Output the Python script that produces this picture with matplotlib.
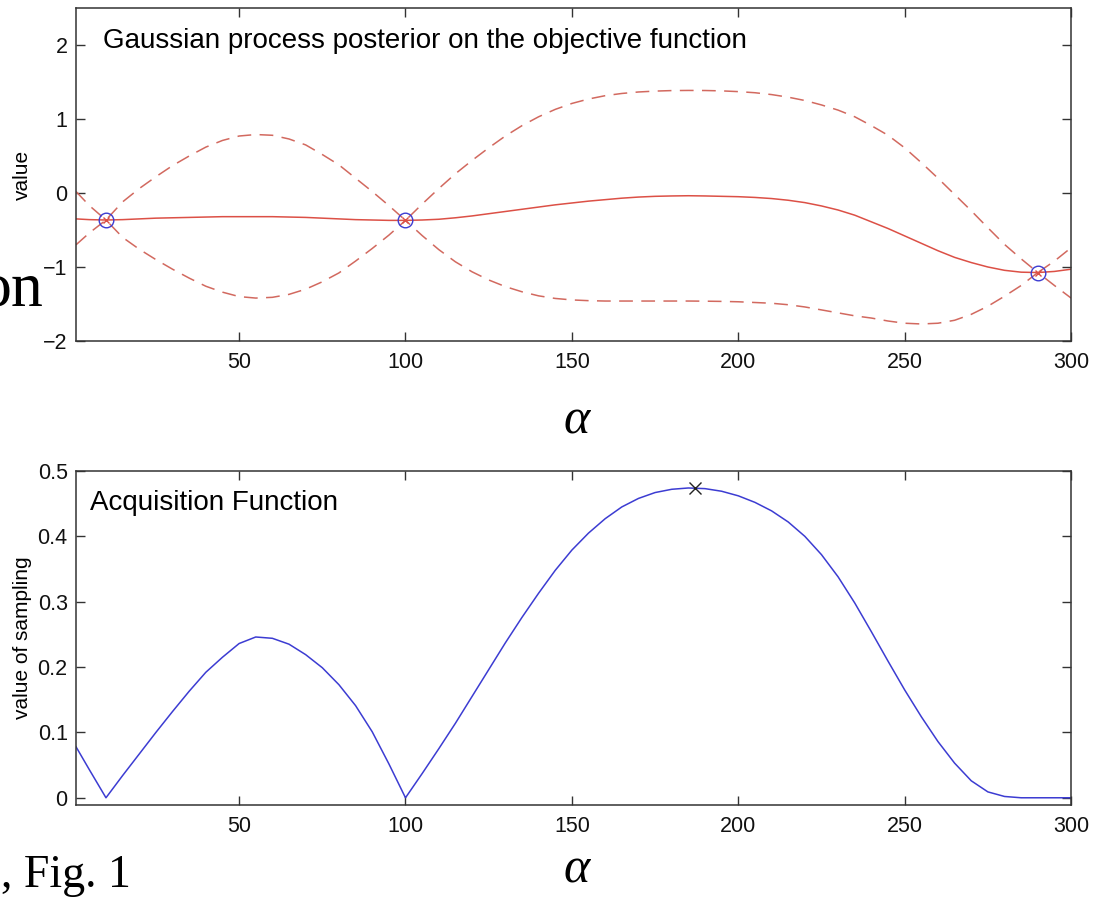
import matplotlib
matplotlib.use('Agg')
import matplotlib.pyplot as plt
import numpy as np

plt.rcParams['font.family'] = ['Liberation Sans', 'DejaVu Sans']

alpha_x = [1] + list(range(5, 301, 5))

# GP posterior mean
gp_mean = [-0.35, -0.36, -0.365, -0.36, -0.35, -0.34, -0.335, -0.33, -0.325, -0.32,
           -0.32, -0.32, -0.32, -0.325, -0.33, -0.34, -0.35, -0.36, -0.365, -0.37,
           -0.37, -0.365, -0.355, -0.335, -0.31, -0.28, -0.25, -0.22, -0.19, -0.16,
           -0.135, -0.11, -0.09, -0.07, -0.055, -0.045, -0.04, -0.037, -0.04, -0.045,
           -0.05, -0.06, -0.075, -0.098, -0.13, -0.175, -0.23, -0.30, -0.39, -0.48,
           -0.58, -0.68, -0.78, -0.87, -0.94, -1.0, -1.045, -1.07, -1.075, -1.06,
           -1.03]
# upper / lower bands (dashed)
gp_upper = [0.02, -0.17, -0.365, -0.12, 0.06, 0.22, 0.37, 0.5, 0.62, 0.71,
            0.77, 0.79, 0.78, 0.73, 0.65, 0.52, 0.38, 0.2, 0.02, -0.17,
            -0.37, -0.15, 0.06, 0.26, 0.44, 0.61, 0.77, 0.91, 1.03, 1.13,
            1.21, 1.27, 1.315, 1.345, 1.365, 1.377, 1.384, 1.386, 1.385, 1.38,
            1.37, 1.355, 1.33, 1.295, 1.25, 1.19, 1.12, 1.03, 0.91, 0.78,
            0.61, 0.41, 0.20, -0.02, -0.24, -0.47, -0.695, -0.89, -1.075, -0.92,
            -0.74]
gp_lower = [-0.70, -0.54, -0.365, -0.60, -0.76, -0.90, -1.03, -1.15, -1.26, -1.34,
            -1.40, -1.42, -1.41, -1.37, -1.30, -1.20, -1.08, -0.92, -0.75, -0.57,
            -0.37, -0.575, -0.765, -0.93, -1.065, -1.175, -1.265, -1.335, -1.39, -1.425,
            -1.445, -1.455, -1.46, -1.46, -1.46, -1.46, -1.46, -1.46, -1.462, -1.465,
            -1.47, -1.48, -1.49, -1.51, -1.54, -1.58, -1.62, -1.66, -1.69, -1.73,
            -1.76, -1.77, -1.76, -1.72, -1.64, -1.53, -1.395, -1.25, -1.075, -1.25,
            -1.42]
# acquisition function
acq = [0.078, 0.043, 0.0, 0.034, 0.067, 0.10, 0.132, 0.163, 0.192, 0.215,
       0.236, 0.246, 0.244, 0.235, 0.219, 0.199, 0.173, 0.141, 0.101, 0.052,
       0.0, 0.037, 0.075, 0.114, 0.155, 0.196, 0.237, 0.276, 0.313, 0.348,
       0.379, 0.405, 0.427, 0.445, 0.458, 0.467, 0.472, 0.474, 0.473, 0.469,
       0.462, 0.452, 0.439, 0.422, 0.400, 0.372, 0.338, 0.298, 0.254, 0.209,
       0.165, 0.124, 0.086, 0.053, 0.026, 0.009, 0.002, 0.0, 0.0, 0.0,
       0.0]

obs_x = [10, 100, 290]
obs_y = [-0.365, -0.37, -1.075]
next_x = [187]
next_y = [0.474]

red = '#dc5046'
red_dash = '#d2695f'
blue = '#3c3cd2'
spine_c = '#333333'

fig = plt.figure(figsize=(11.05, 8.99), dpi=100)
ax1 = fig.add_axes([0.0688, 0.6207, 0.9005, 0.3704])
ax2 = fig.add_axes([0.0688, 0.1046, 0.9005, 0.3715])

# top: GP posterior
ax1.plot(alpha_x, gp_upper, color=red_dash, lw=1.1, dashes=(9, 5.5))
ax1.plot(alpha_x, gp_lower, color=red_dash, lw=1.1, dashes=(9, 5.5))
ax1.plot(alpha_x, gp_mean, color=red, lw=1.1)
ax1.plot(obs_x, obs_y, 'x', color=red, ms=5, mew=1)
ax1.plot(obs_x, obs_y, 'o', mfc='none', mec=blue, ms=10.5, mew=1)
ax1.set_xlim(1, 300)
ax1.set_ylim(-2, 2.5)
ax1.set_yticks([-2, -1, 0, 1, 2])
ax1.set_yticklabels(['\u22122', '\u22121', '0', '1', '2'])
ax1.set_ylabel('value', fontsize=15)
ax1.yaxis.set_label_coords(-0.044, 0.5)
ax1.text(0.027, 0.879, 'Gaussian process posterior on the objective function',
         transform=ax1.transAxes, fontsize=20, va='baseline', ha='left')

# bottom: acquisition
ax2.plot(alpha_x, acq, color=blue, lw=1.1)
ax2.plot(next_x, next_y, 'x', color='#222222', ms=8, mew=1)
ax2.set_xlim(1, 300)
ax2.set_ylim(-0.011, 0.5)
ax2.set_yticks([0, 0.1, 0.2, 0.3, 0.4, 0.5])
ax2.set_yticklabels(['0', '0.1', '0.2', '0.3', '0.4', '0.5'])
ax2.set_ylabel('value of sampling', fontsize=15)
ax2.yaxis.set_label_coords(-0.044, 0.5)
ax2.text(0.014, 0.883, 'Acquisition Function',
         transform=ax2.transAxes, fontsize=20, va='baseline', ha='left')

for ax in (ax1, ax2):
    ax.set_xticks([50, 100, 150, 200, 250, 300])
    ax.tick_params(direction='in', length=6.5, width=1, colors=spine_c,
                   labelcolor='#111111', labelsize=15.5, top=True, right=True)
    ax.tick_params(axis='x', pad=8)
    ax.tick_params(axis='y', pad=6)
    for s in ax.spines.values():
        s.set_color(spine_c)
        s.set_linewidth(1.1)

# surrounding text from the page
fig.text(577 / 1105, 1 - 421 / 899, '\u03b1', family='Liberation Serif', style='italic',
         fontsize=36, ha='center', va='center')
fig.text(577 / 1105, 1 - 870 / 899, '\u03b1', family='Liberation Serif', style='italic',
         fontsize=36, ha='center', va='center')
fig.text(44 / 1105, 1 - 305 / 899, 'on', family='Liberation Serif', fontsize=46,
         ha='right', va='baseline')
fig.text(1 / 1105, 1 - 887 / 899, ', Fig. 1', family='Liberation Serif', fontsize=33,
         ha='left', va='baseline')

fig.savefig('out.png', dpi=100)
